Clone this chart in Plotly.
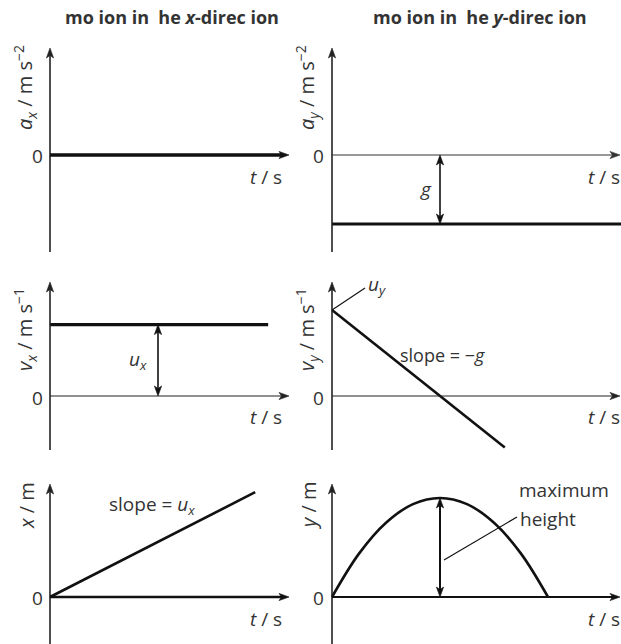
import plotly.graph_objects as go

W, H = 621, 644
FONT = "Open Sans"
INK = "#111111"
TXT = "#333333"

# Kinematic parameters
g = 10.0
u_x = 8.3
u_y = 10.0

# Series for each panel
t_ax, a_x = [0, 2.16], [0, 0]
t_ay, a_y = [0, 2.676], [-g, -g]
t_vx, v_x = [0, 2.02], [u_x, u_x]
t_vy, v_y = [0, 1.6], [u_y, u_y - g * 1.6]
t_xp, x_p = [0, 1.9], [0, u_x * 1.9]
t_yp = [0, 0.25, 0.5, 0.75, 1.0, 1.25, 1.5, 1.75, 2.0]
y_p = [0, 2.19, 3.75, 4.69, 5.0, 4.69, 3.75, 2.19, 0]
t_peak = 1.0
y_max = 5.0

# Panel geometry in pixels: origin, pixel-per-unit scales, bounding box
COLS = {"L": dict(ox=50, bx=(30, 300)), "R": dict(ox=332, bx=(312, 621))}
ROWS = {1: dict(oy=155, by=(40, 256)), 2: dict(oy=396, by=(276, 454)), 3: dict(oy=597, by=(478, 644))}
SX = 108
SY = {("L", 1): 6.9, ("R", 1): 6.9, ("L", 2): 8.6, ("R", 2): 8.6,
      ("L", 3): 105 / 15.8, ("R", 3): 19.8}
AXIS_TOP = {1: 48, 2: 282, 3: 484}
AXIS_BOTTOM = {1: 252, 2: 450, 3: 644}
AXIS_RIGHT = {"L": 289, "R": 620}

fig = go.Figure()
panels = {}
idx = 0
for r in (1, 2, 3):
    for c in ("L", "R"):
        idx += 1
        col, row, sy = COLS[c], ROWS[r], SY[(c, r)]
        ox, oy = col["ox"], row["oy"]
        bx0, bx1 = col["bx"]
        by0, by1 = row["by"]
        xr = [(bx0 - ox) / SX, (bx1 - ox) / SX]
        yr = [(oy - by1) / sy, (oy - by0) / sy]
        sfx = "" if idx == 1 else str(idx)
        fig.layout["xaxis" + sfx] = dict(domain=[bx0 / W, bx1 / W], range=xr, visible=False,
                                         anchor="y" + sfx, fixedrange=True)
        fig.layout["yaxis" + sfx] = dict(domain=[1 - by1 / H, 1 - by0 / H], range=yr, visible=False,
                                         anchor="x" + sfx, fixedrange=True)
        panels[(c, r)] = dict(x="x" + sfx, y="y" + sfx, ox=ox, oy=oy, sy=sy)


def to_t(c, px):
    return (px - COLS[c]["ox"]) / SX


def to_v(c, r, py):
    p = panels[(c, r)]
    return (p["oy"] - py) / p["sy"]


def line(c, r, xs, ys, w):
    p = panels[(c, r)]
    fig.add_trace(go.Scatter(x=xs, y=ys, xaxis=p["x"], yaxis=p["y"], mode="lines",
                             line=dict(color=INK, width=w, shape="spline" if len(xs) > 2 else "linear"),
                             hoverinfo="skip", showlegend=False, cliponaxis=False))


shapes = []

# arrowhead outline in pixels (y up), tip at the origin, pointing up
HEAD = [(0, 0), (-3.6, -10), (0, -7.5), (3.6, -10)]


def head_path(direction):
    pts = []
    for hx, hy in HEAD:
        if direction == "up":
            pts.append((hx, hy))
        elif direction == "down":
            pts.append((hx, -hy))
        elif direction == "right":
            pts.append((hy, -hx))
        else:
            pts.append((-hy, hx))
    return "M" + " L".join(f"{px:.2f},{py:.2f}" for px, py in pts) + " Z"


def arrow(c, r, x0, y0, x1, y1, w, both=False, color=INK):
    p = panels[(c, r)]
    if x0 == x1:
        sgn = 1 if y1 > y0 else -1
        d_end = "up" if sgn > 0 else "down"
        back = 6 / p["sy"]
        lx0 = lx1 = x0
        ly0 = y0 + (sgn * back if both else 0)
        ly1 = y1 - sgn * back
    else:
        sgn = 1 if x1 > x0 else -1
        d_end = "right" if sgn > 0 else "left"
        back = 6 / SX
        ly0 = ly1 = y0
        lx0 = x0 + (sgn * back if both else 0)
        lx1 = x1 - sgn * back
    shapes.append(dict(type="line", xref=p["x"], yref=p["y"], x0=lx0, y0=ly0, x1=lx1, y1=ly1,
                       line=dict(color=color, width=w)))
    opposite = {"up": "down", "down": "up", "right": "left", "left": "right"}
    ends = [((x1, y1), d_end)]
    if both:
        ends.append(((x0, y0), opposite[d_end]))
    for (ex, ey), d in ends:
        shapes.append(dict(type="path", xref=p["x"], yref=p["y"], xsizemode="pixel", ysizemode="pixel",
                           xanchor=ex, yanchor=ey, path=head_path(d),
                           fillcolor=color, line=dict(color=color, width=0.6)))


annotations = []


def text(px, py, s, size=19, angle=0, bold=False):
    annotations.append(dict(x=px / W, y=1 - py / H, xref="paper", yref="paper", text=s,
                            showarrow=False, xanchor="center", yanchor="middle", textangle=angle,
                            font=dict(family=FONT, size=size, color=TXT,
                                      weight="bold" if bold else "normal")))


# Vertical axes
for (c, r) in panels:
    arrow(c, r, 0, to_v(c, r, AXIS_BOTTOM[r]), 0, to_v(c, r, AXIS_TOP[r]), 1.6, color="#222222")

# Time axes
arrow("L", 1, 0, 0, to_t("L", AXIS_RIGHT["L"]), 0, 3.2)
arrow("R", 1, 0, 0, to_t("R", AXIS_RIGHT["R"]), 0, 1.2, color="#333333")
arrow("L", 2, 0, 0, to_t("L", AXIS_RIGHT["L"]), 0, 1.2, color="#222222")
arrow("R", 2, 0, 0, to_t("R", AXIS_RIGHT["R"]), 0, 1.2, color="#222222")
arrow("L", 3, 0, 0, to_t("L", AXIS_RIGHT["L"]), 0, 2.6)
arrow("R", 3, 0, 0, to_t("R", AXIS_RIGHT["R"]), 0, 2.0)

# Data lines
line("L", 1, t_ax, a_x, 3.2)
line("R", 1, t_ay, a_y, 3.2)
line("L", 2, t_vx, v_x, 3.2)
line("R", 2, t_vy, v_y, 2.6)
line("L", 3, t_xp, x_p, 2.6)
line("R", 3, t_yp, y_p, 2.6)

# Double-headed magnitude arrows
arrow("R", 1, t_peak, 0, t_peak, -g, 1.6, both=True)
arrow("L", 2, t_peak, 0, t_peak, u_x, 1.6, both=True)
arrow("R", 3, t_peak, 0, t_peak, y_max, 2.0, both=True)

# Leader lines
shapes += [
    dict(type="line", xref=panels[("R", 2)]["x"], yref=panels[("R", 2)]["y"],
         xsizemode="pixel", ysizemode="pixel", xanchor=0, yanchor=u_y,
         x0=0, x1=33, y0=0, y1=22, line=dict(color=INK, width=1.2)),
    dict(type="line", xref=panels[("R", 3)]["x"], yref=panels[("R", 3)]["y"],
         xsizemode="pixel", ysizemode="pixel", xanchor=t_peak, yanchor=0,
         x0=4, x1=77, y0=37, y1=80, line=dict(color=INK, width=1.2)),
]

# Titles
text(172, 17, "mo ion in  he <i>x</i>-direc ion", size=18, bold=True)
text(480, 17, "mo ion in  he <i>y</i>-direc ion", size=18, bold=True)

# Vertical axis titles
text(25, 88, "<i>a</i><sub><i>x</i></sub> / m s<sup>−2</sup>", size=20, angle=-90)
text(307, 88, "<i>a</i><sub><i>y</i></sub> / m s<sup>−2</sup>", size=20, angle=-90)
text(25, 330, "<i>v</i><sub><i>x</i></sub> / m s<sup>−1</sup>", size=20, angle=-90)
text(307, 330, "<i>v</i><sub><i>y</i></sub> / m s<sup>−1</sup>", size=20, angle=-90)
text(26, 506, "<i>x</i> / m", size=20, angle=-90)
text(308, 506, "<i>y</i> / m", size=20, angle=-90)

# Zero labels
for py in (156, 398, 598):
    text(37, py, "0")
    text(318, py, "0")

# Time labels
for py in (177, 417, 619):
    text(266, py, "<i>t</i> / s")
    text(604, py, "<i>t</i> / s")

# Quantity labels
text(426, 189, "<i>g</i>")
text(138, 360, "<i>u</i><sub><i>x</i></sub>")
text(377, 285, "<i>u</i><sub><i>y</i></sub>")
text(443, 355, "slope = −<i>g</i>", size=18)
text(152, 505, "slope = <i>u</i><sub><i>x</i></sub>")
text(564, 490, "maximum")
text(548, 519, "height")

fig.update_layout(width=W, height=H, margin=dict(l=0, r=0, t=0, b=0),
                  paper_bgcolor="white", plot_bgcolor="white",
                  annotations=annotations, shapes=shapes, showlegend=False)

fig.write_html("out.html", config={"displayModeBar": False})
